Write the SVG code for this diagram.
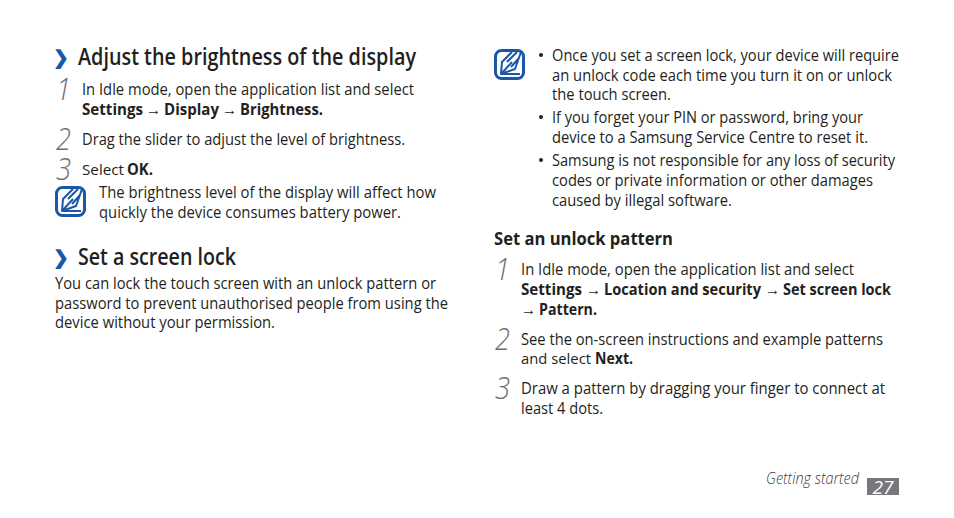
<svg xmlns="http://www.w3.org/2000/svg" width="954" height="518" viewBox="0 0 954 518">
<style>
text{font-family:"Open Sans","Noto Sans","Liberation Sans",sans-serif;fill:#231f20}
.b{font-size:15.500px}
.s{font-weight:700;font-size:15.500px}
.t{font-size:15px}
.h{font-size:22.500px;font-weight:600}
.n{font-style:italic;font-weight:300;font-size:31px;fill:#6d6e71}
.c{font-size:19px;font-weight:700;fill:#1c56a8}
.sub{font-size:17px;font-weight:700}
.f{font-size:16px;font-style:italic;font-weight:300;fill:#404041}
.a{font-family:"Liberation Sans",sans-serif;font-size:15.500px}
.ic{fill:none;stroke:#1c56a8;stroke-width:2;stroke-linejoin:round}
</style>
<defs>
<g id="note">
<rect x="1.500" y="1.500" width="28" height="28" rx="6" fill="#fff" stroke="#1c56a8" stroke-width="3"/>
<path class="ic" d="M7 25 L8 13 L18 3 M27 3 L21 20 L7 25 L18 13 M13 13 L23 3 M17 18 L25 9 M7 25 L26 25"/>
</g>
</defs>
<rect width="954" height="518" fill="#fff"/>
<g id="left">
<text class="c" x="53" y="64">❯</text>
<text class="h" x="78" y="65" textLength="338" lengthAdjust="spacingAndGlyphs">Adjust the brightness of the display</text>
<text class="n" x="56" y="100" textLength="15" lengthAdjust="spacingAndGlyphs">1</text>
<text class="b" x="82" y="95" textLength="332" lengthAdjust="spacingAndGlyphs">In Idle mode, open the application list and select</text>
<text class="s" x="82" y="115" textLength="61" lengthAdjust="spacingAndGlyphs">Settings</text>
<text class="a" x="146" y="115" textLength="15" lengthAdjust="spacingAndGlyphs">→</text>
<text class="s" x="164" y="115" textLength="55" lengthAdjust="spacingAndGlyphs">Display</text>
<text class="a" x="222" y="115" textLength="15" lengthAdjust="spacingAndGlyphs">→</text>
<text class="s" x="240" y="115" textLength="83" lengthAdjust="spacingAndGlyphs">Brightness.</text>
<text class="n" x="56" y="150" textLength="15" lengthAdjust="spacingAndGlyphs">2</text>
<text class="b" x="82" y="145" textLength="323" lengthAdjust="spacingAndGlyphs">Drag the slider to adjust the level of brightness.</text>
<text class="n" x="56" y="180" textLength="15" lengthAdjust="spacingAndGlyphs">3</text>
<text class="t" x="82" y="175" textLength="42" lengthAdjust="spacingAndGlyphs">Select</text>
<text class="s" x="127" y="175" textLength="26" lengthAdjust="spacingAndGlyphs">OK.</text>
<use id="note-left" href="#note" x="55" y="186"/>
<text class="b" x="99" y="198" textLength="337" lengthAdjust="spacingAndGlyphs">The brightness level of the display will affect how</text>
<text class="b" x="99" y="218" textLength="302" lengthAdjust="spacingAndGlyphs">quickly the device consumes battery power.</text>
<text class="c" x="53" y="264">❯</text>
<text class="h" x="78" y="265" textLength="158" lengthAdjust="spacingAndGlyphs">Set a screen lock</text>
<text class="b" x="55" y="289" textLength="381" lengthAdjust="spacingAndGlyphs">You can lock the touch screen with an unlock pattern or</text>
<text class="b" x="55" y="309" textLength="393" lengthAdjust="spacingAndGlyphs">password to prevent unauthorised people from using the</text>
<text class="b" x="55" y="328" textLength="220" lengthAdjust="spacingAndGlyphs">device without your permission.</text>
</g>
<g id="right">
<use id="note-right" href="#note" x="494" y="49"/>
<circle cx="541" cy="55" r="2" fill="#231f20"/>
<text class="b" x="552" y="61" textLength="347" lengthAdjust="spacingAndGlyphs">Once you set a screen lock, your device will require</text>
<text class="b" x="552" y="81" textLength="340" lengthAdjust="spacingAndGlyphs">an unlock code each time you turn it on or unlock</text>
<text class="b" x="552" y="100" textLength="119" lengthAdjust="spacingAndGlyphs">the touch screen.</text>
<circle cx="541" cy="117" r="2" fill="#231f20"/>
<text class="b" x="552" y="123" textLength="311" lengthAdjust="spacingAndGlyphs">If you forget your PIN or password, bring your</text>
<text class="b" x="552" y="143" textLength="316" lengthAdjust="spacingAndGlyphs">device to a Samsung Service Centre to reset it.</text>
<circle cx="541" cy="160" r="2" fill="#231f20"/>
<text class="b" x="552" y="166" textLength="343" lengthAdjust="spacingAndGlyphs">Samsung is not responsible for any loss of security</text>
<text class="b" x="552" y="186" textLength="321" lengthAdjust="spacingAndGlyphs">codes or private information or other damages</text>
<text class="b" x="552" y="206" textLength="180" lengthAdjust="spacingAndGlyphs">caused by illegal software.</text>
<text class="sub" x="494" y="245" textLength="179" lengthAdjust="spacingAndGlyphs">Set an unlock pattern</text>
<text class="n" x="495" y="280" textLength="15" lengthAdjust="spacingAndGlyphs">1</text>
<text class="b" x="521" y="275" textLength="333" lengthAdjust="spacingAndGlyphs">In Idle mode, open the application list and select</text>
<text class="s" x="521" y="295" textLength="61" lengthAdjust="spacingAndGlyphs">Settings</text>
<text class="a" x="586" y="295" textLength="15" lengthAdjust="spacingAndGlyphs">→</text>
<text class="s" x="604" y="295" textLength="157" lengthAdjust="spacingAndGlyphs">Location and security</text>
<text class="a" x="765" y="295" textLength="15" lengthAdjust="spacingAndGlyphs">→</text>
<text class="s" x="783" y="295" textLength="108" lengthAdjust="spacingAndGlyphs">Set screen lock</text>
<text class="a" x="521" y="315" textLength="15" lengthAdjust="spacingAndGlyphs">→</text>
<text class="s" x="539" y="315" textLength="58" lengthAdjust="spacingAndGlyphs">Pattern.</text>
<text class="n" x="495" y="350" textLength="15" lengthAdjust="spacingAndGlyphs">2</text>
<text class="b" x="521" y="345" textLength="362" lengthAdjust="spacingAndGlyphs">See the on-screen instructions and example patterns</text>
<text class="t" x="521" y="364" textLength="70" lengthAdjust="spacingAndGlyphs">and select</text>
<text class="s" x="595" y="364" textLength="38" lengthAdjust="spacingAndGlyphs">Next.</text>
<text class="n" x="495" y="399" textLength="15" lengthAdjust="spacingAndGlyphs">3</text>
<text class="b" x="521" y="394" textLength="364" lengthAdjust="spacingAndGlyphs">Draw a pattern by dragging your finger to connect at</text>
<text class="b" x="521" y="414" textLength="82" lengthAdjust="spacingAndGlyphs">least 4 dots.</text>
</g>
<g id="footer">
<text class="f" x="766" y="484" textLength="93" lengthAdjust="spacingAndGlyphs">Getting started</text>
<rect x="867" y="478" width="32" height="17" fill="#77787b"/>
<text x="883" y="494" text-anchor="middle" style="font-size:19px;font-style:italic;font-weight:400;fill:#fff">27</text>
</g>
</svg>
